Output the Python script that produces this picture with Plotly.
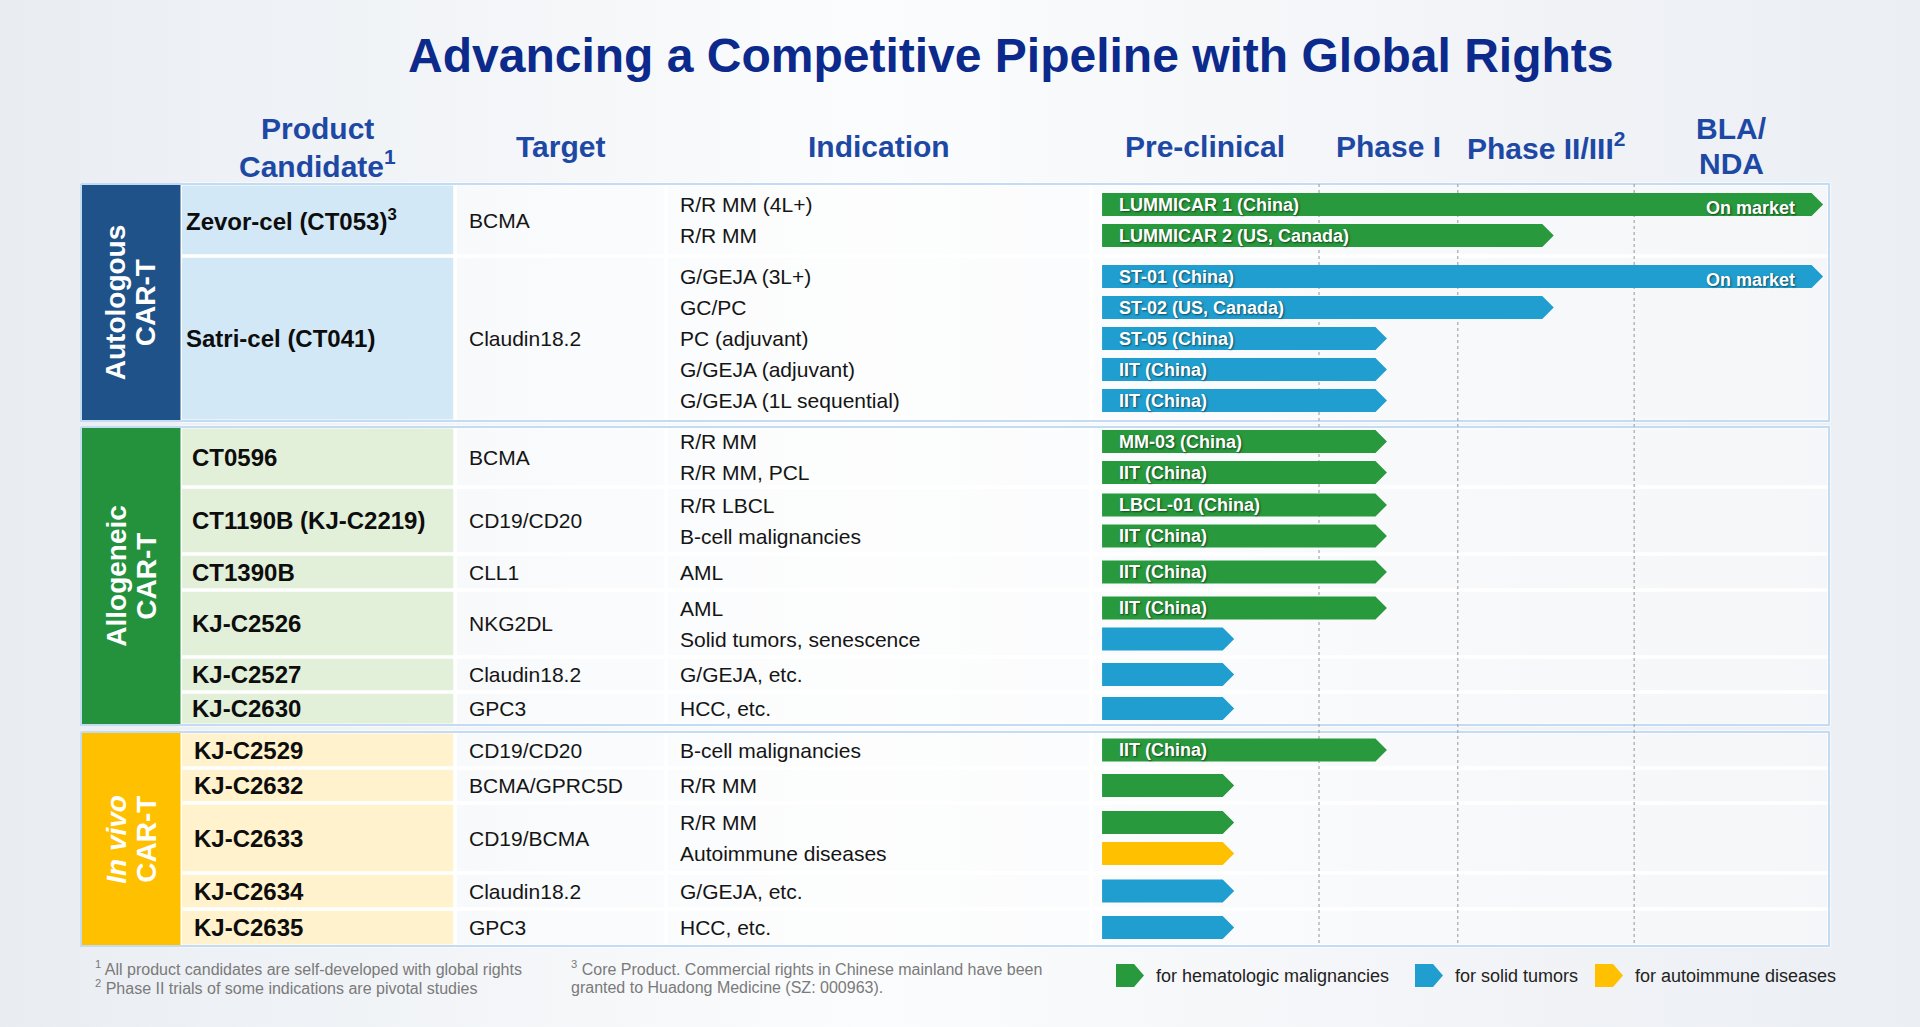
import plotly.graph_objects as go

FONT = 'Liberation Sans, Arial, sans-serif'

# ---- data ----
group_names = ['Autologous<br>CAR-T', 'Allogeneic<br>CAR-T', '<i>In vivo</i><br>CAR-T']

product_group = [0, 0, 1, 1, 1, 1, 1, 1, 2, 2, 2, 2, 2]

products = ['Zevor-cel (CT053)<sup>3</sup>', 'Satri-cel (CT041)',
            'CT0596', 'CT1190B (KJ-C2219)', 'CT1390B', 'KJ-C2526', 'KJ-C2527', 'KJ-C2630',
            'KJ-C2529', 'KJ-C2632', 'KJ-C2633', 'KJ-C2634', 'KJ-C2635']

targets = ['BCMA', 'Claudin18.2',
           'BCMA', 'CD19/CD20', 'CLL1', 'NKG2DL', 'Claudin18.2', 'GPC3',
           'CD19/CD20', 'BCMA/GPRC5D', 'CD19/BCMA', 'Claudin18.2', 'GPC3']

indications = [
    ['R/R MM (4L+)', 'R/R MM'],
    ['G/GEJA (3L+)', 'GC/PC', 'PC (adjuvant)', 'G/GEJA (adjuvant)', 'G/GEJA (1L sequential)'],
    ['R/R MM', 'R/R MM, PCL'],
    ['R/R LBCL', 'B-cell malignancies'],
    ['AML'],
    ['AML', 'Solid tumors, senescence'],
    ['G/GEJA, etc.'],
    ['HCC, etc.'],
    ['B-cell malignancies'],
    ['R/R MM'],
    ['R/R MM', 'Autoimmune diseases'],
    ['G/GEJA, etc.'],
    ['HCC, etc.'],
]

programs = [
    ['LUMMICAR 1 (China)', 'LUMMICAR 2 (US, Canada)'],
    ['ST-01 (China)', 'ST-02 (US, Canada)', 'ST-05 (China)', 'IIT (China)', 'IIT (China)'],
    ['MM-03 (China)', 'IIT (China)'],
    ['LBCL-01 (China)', 'IIT (China)'],
    ['IIT (China)'],
    ['IIT (China)', ''],
    [''],
    [''],
    ['IIT (China)'],
    [''],
    ['', ''],
    [''],
    [''],
]

# how far each arrow reaches, in % of the pipeline width (pre-clinical -> BLA/NDA)
progress = [
    [99.2, 62.7],
    [99.2, 62.7, 40.1, 40.1, 40.1],
    [40.1, 40.1],
    [40.1, 40.1],
    [40.1],
    [40.1, 19.4],
    [19.4],
    [19.4],
    [40.1],
    [19.4],
    [19.4, 19.4],
    [19.4],
    [19.4],
]

status = [
    ['On market', ''],
    ['On market', '', '', '', ''],
    ['', ''], ['', ''], [''], ['', ''], [''], [''], [''], [''], ['', ''], [''], [''],
]

disease = [
    ['heme', 'heme'],
    ['solid', 'solid', 'solid', 'solid', 'solid'],
    ['heme', 'heme'],
    ['heme', 'heme'],
    ['heme'],
    ['heme', 'solid'],
    ['solid'],
    ['solid'],
    ['heme'],
    ['heme'],
    ['heme', 'auto'],
    ['solid'],
    ['solid'],
]

column_headers = ['Product<br>Candidate<sup>1</sup>', 'Target', 'Indication']
phase_headers = ['Pre-clinical', 'Phase I', 'Phase II/III<sup>2</sup>', 'BLA/<br>NDA']
phase_edges = [0, 30.9, 49.7, 73.6, 100]  # % of pipeline width

legend_keys = ['heme', 'solid', 'auto']
legend_labels = ['for hematologic malignancies', 'for solid tumors', 'for autoimmune diseases']

footnotes = [
    '<sup>1</sup> All product candidates are self-developed with global rights',
    '<sup>2</sup> Phase II trials of some indications are pivotal studies',
    '<sup>3</sup> Core Product. Commercial rights in Chinese mainland have been',
    'granted to Huadong Medicine (SZ: 000963).',
]

title = 'Advancing a Competitive Pipeline with Global Rights'

# ---- layout (pixels of the slide) ----
W, H = 1920, 1027
col_edges = [81, 180.5, 455, 666, 1091, 1829]
group_tops = [184, 427, 732]
row_heights = [72, 165, 60, 67, 36, 67, 35, 33, 36, 35, 70, 36, 37]
line_pitch = 31
bar_h = 23
bar_start = 1.5
tip = 11.5 / (col_edges[5] - col_edges[4]) * 100

group_colors = ['#1f5289', '#24923d', '#ffc000']
product_bg = ['#d3e8f6', '#e2efd9', '#fff2cc']
bar_colors = {'heme': '#28993c', 'solid': '#1f9ecf', 'auto': '#ffc000'}
product_indent = [184, 190, 192]
header_color = '#1d49a5'


def rect(x0, x1, y0, y1):
    return [x0, x1, x1, x0, x0, None], [y0, y0, y1, y1, y0, None]


def arrow(x0, x1, yc, h, t):
    return ([x0, x1 - t, x1, x1 - t, x0, x0, None],
            [yc - h / 2, yc - h / 2, yc, yc + h / 2, yc + h / 2, yc - h / 2, None])


annotations = []


def text(x, y, s, size=21, color='#151515', bold=False, xanchor='left', xref='x', **kwargs):
    annotations.append(dict(
        x=x, y=y, xref=xref, yref='y', text=s, showarrow=False,
        xanchor=xanchor, yanchor='middle',
        font=dict(family=FONT, size=size, color=color, weight='bold' if bold else 'normal'),
        **kwargs,
    ))


def lines_text(x, y, s, pitch, xref='x', **kwargs):
    # multi-line header with a tighter line pitch than plotly's default
    parts = s.split('<br>')
    for k, part in enumerate(parts):
        text(x, y + (k - (len(parts) - 1) / 2) * pitch, part, xref=xref, **kwargs)


# row positions
row_top = []
prev = None
y = 0
for i, g in enumerate(product_group):
    if g != prev:
        y = group_tops[g]
        prev = g
    row_top.append(y)
    y += row_heights[i]
group_bottom = [max(row_top[i] + row_heights[i] for i in range(len(products)) if product_group[i] == g)
                for g in range(len(group_names))]

fig = go.Figure()

# background
fig.add_trace(go.Scatter(
    x=[0, W, W, 0, 0], y=[0, 0, H, H, 0], mode='lines', fill='toself', line=dict(width=0),
    fillgradient=dict(type='horizontal', colorscale=[[0, '#e9edf2'], [0.45, '#fbfcfd'], [1, '#ebeef3']]),
    hoverinfo='skip', showlegend=False,
))

# table cells
for g in range(len(group_names)):
    px_, py_ = [], []
    wx, wy = [], []
    for i in range(len(products)):
        if product_group[i] != g:
            continue
        y0, y1 = row_top[i], row_top[i] + row_heights[i]
        a, b = rect(col_edges[1], col_edges[2], y0, y1)
        px_ += a
        py_ += b
        for c in range(2, 5):
            a, b = rect(col_edges[c], col_edges[c + 1], y0, y1)
            wx += a
            wy += b
    fig.add_trace(go.Scatter(x=px_, y=py_, mode='lines', fill='toself', fillcolor=product_bg[g],
                             line=dict(color='white', width=3), hoverinfo='skip', showlegend=False))
    fig.add_trace(go.Scatter(x=wx, y=wy, mode='lines', fill='toself', fillcolor='rgba(255,255,255,0.45)',
                             line=dict(color='white', width=3), hoverinfo='skip', showlegend=False))
    gx, gy = rect(col_edges[0], col_edges[1], group_tops[g], group_bottom[g])
    fig.add_trace(go.Scatter(x=gx, y=gy, mode='lines', fill='toself', fillcolor=group_colors[g],
                             line=dict(width=0), hoverinfo='skip', showlegend=False))
    bx, by = rect(col_edges[0], col_edges[5], group_tops[g], group_bottom[g])
    fig.add_trace(go.Scatter(x=bx, y=by, mode='lines', line=dict(color='#c4dcf3', width=2),
                             hoverinfo='skip', showlegend=False))

# phase separators
dx, dy = [], []
for e in phase_edges[1:-1]:
    dx += [e, e, None]
    dy += [group_tops[0], group_bottom[-1], None]
fig.add_trace(go.Scatter(x=dx, y=dy, xaxis='x2', yaxis='y', mode='lines',
                         line=dict(color='#a3a8ad', width=1.2, dash='dot'),
                         hoverinfo='skip', showlegend=False))

# arrows
shadow = '1px 1px 2px rgba(0,0,0,0.55)'
bars = {k: ([], []) for k in bar_colors}
for i in range(len(products)):
    n = len(indications[i])
    rc = row_top[i] + row_heights[i] / 2
    for j in range(n):
        yc = rc + (j - (n - 1) / 2) * line_pitch
        ax, ay = arrow(bar_start, progress[i][j], yc, bar_h, tip)
        bars[disease[i][j]][0].extend(ax)
        bars[disease[i][j]][1].extend(ay)
        text(col_edges[3] + 12, yc, indications[i][j])
        if programs[i][j]:
            text(bar_start, yc, programs[i][j], size=18, color='white', bold=True, xref='x2', xshift=15)
            annotations[-1]['font']['shadow'] = shadow
        if status[i][j]:
            text(progress[i][j], yc + 3, status[i][j], size=18, color='white', bold=True,
                 xanchor='right', xref='x2', xshift=-26)
            annotations[-1]['font']['shadow'] = shadow
    text(product_indent[product_group[i]], rc, products[i], size=24, color='#0d0d0d', bold=True)
    text(col_edges[2] + 12, rc, targets[i])

for k, (ax, ay) in bars.items():
    fig.add_trace(go.Scatter(x=ax, y=ay, xaxis='x2', yaxis='y', mode='lines', fill='toself',
                             fillcolor=bar_colors[k], line=dict(width=0),
                             hoverinfo='skip', showlegend=False))

# group labels (rotated, one annotation per line)
for g, name in enumerate(group_names):
    parts = name.split('<br>')
    xc = (col_edges[0] + col_edges[1]) / 2
    for k, part in enumerate(parts):
        text(xc + (k - (len(parts) - 1) / 2) * 30, (group_tops[g] + group_bottom[g]) / 2, part,
             size=28, color='white', bold=True, xanchor='center', textangle=-90)

# headers
for c, h in enumerate(column_headers):
    lines_text((col_edges[c + 1] + col_edges[c + 2]) / 2, 146, h, 35.5, size=30,
               color=header_color, bold=True, xanchor='center')
for p, h in enumerate(phase_headers):
    lines_text((phase_edges[p] + phase_edges[p + 1]) / 2, 146, h, 35.5, xref='x2', size=30,
               color=header_color, bold=True, xanchor='center')

text(1010, 55, title, size=48, color='#0b2a8c', bold=True, xanchor='center')

# legend
lx0 = [1116, 1415, 1595]
lt = [1154, 1453, 1633]
for k, x0, xt, lab in zip(legend_keys, lx0, lt, legend_labels):
    ax, ay = arrow(x0, x0 + 28, 975.5, 23, 10)
    fig.add_trace(go.Scatter(x=ax, y=ay, mode='lines', fill='toself', fillcolor=bar_colors[k],
                             line=dict(width=0), hoverinfo='skip', showlegend=False))
    text(xt, 975.5, lab, size=18, color='#222222')

# footnotes
for s, (fx, fy) in zip(footnotes, [(93, 968), (93, 987), (569, 968), (569, 987)]):
    text(fx, fy, s, size=16, color='#7a7a7a')

fig.update_layout(
    width=W,
    height=H,
    margin=dict(l=0, r=0, t=0, b=0),
    paper_bgcolor='#f2f4f7',
    plot_bgcolor='rgba(0,0,0,0)',
    xaxis=dict(range=[0, W], visible=False, fixedrange=True, domain=[0, 1]),
    xaxis2=dict(range=[0, 100], visible=False, fixedrange=True, anchor='y',
                domain=[col_edges[4] / W, col_edges[5] / W]),
    yaxis=dict(range=[H, 0], visible=False, fixedrange=True, domain=[0, 1]),
    annotations=annotations,
    showlegend=False,
)

# the page's default body margin would shift the slide by 8px
fig.write_html('out.html', config={'displayModeBar': False},
               post_script="document.body.style.margin='0';document.body.style.overflow='hidden';")
